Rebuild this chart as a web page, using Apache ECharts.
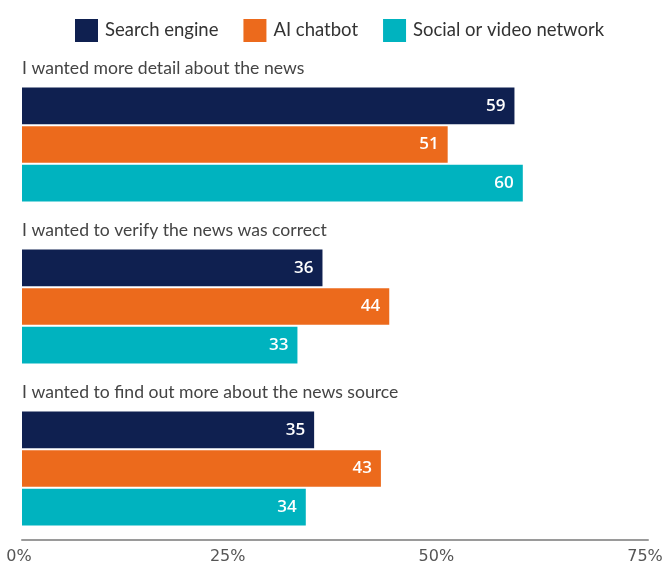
<!DOCTYPE html>
<html>
<head>
<meta charset="utf-8">
<script src="https://cdn.jsdelivr.net/npm/echarts@6/dist/echarts.min.js"></script>
<style>
  html, body { margin: 0; padding: 0; background: #fff; }
  #chart { width: 664px; height: 568px; }
</style>
</head>
<body>
<div id="chart"></div>
<script>
// Reasons for clicking through, by platform type (% of respondents)
const reasons = [
  'I wanted more detail about the news',
  'I wanted to verify the news was correct',
  'I wanted to find out more about the news source'
];
const seriesNames = ['Search engine', 'AI chatbot', 'Social or video network'];
const searchEngine = [59, 36, 35];
const aiChatbot = [51, 44, 43];
const socialVideo = [60, 33, 34];
const xTicks = [0, 25, 50, 75];

const colors = ['#0f2050', '#ec6a1c', '#00b3bf'];
const values = [searchEngine, aiChatbot, socialVideo];

// Each group heading sits this far above the centre of its category band
const HEADING_RAISE = 76;

const chart = echarts.init(document.getElementById('chart'), null, { renderer: 'canvas' });

chart.setOption({
  animation: false,
  backgroundColor: '#ffffff',
  color: colors,
  legend: {
    top: 14,
    left: 70,
    icon: 'rect',
    itemWidth: 23,
    itemHeight: 23,
    itemGap: 25,
    textStyle: {
      fontFamily: 'Lato',
      fontSize: 18.5,
      color: '#333333',
      padding: [0, 0, 0, 2]
    },
    data: seriesNames
  },
  grid: {
    left: 22,
    right: 16,
    top: 63.5,
    bottom: 18.5,
    containLabel: false,
    outerBoundsMode: 'none'
  },
  xAxis: {
    type: 'value',
    min: xTicks[0],
    max: xTicks[xTicks.length - 1],
    interval: 25,
    offset: -9.5,
    axisLine: { show: true, lineStyle: { color: '#9a9a9a', width: 2 } },
    axisTick: { show: false },
    splitLine: { show: false },
    axisLabel: {
      formatter: '{value}%',
      fontFamily: 'DejaVu Sans',
      fontSize: 16,
      color: '#555555',
      margin: 9,
      padding: [0, 6, 0, 0]
    }
  },
  yAxis: {
    type: 'category',
    inverse: true,
    data: reasons,
    axisLine: { show: false },
    axisTick: { show: false },
    axisLabel: { show: false }
  },
  series: seriesNames.map((name, i) => ({
    name: name,
    type: 'bar',
    data: values[i],
    barWidth: 36.7,
    barGap: '5%',
    itemStyle: { color: colors[i] },
    label: {
      show: true,
      position: 'insideRight',
      distance: 9,
      color: '#ffffff',
      fontFamily: 'Open Sans',
      fontWeight: 600,
      fontSize: 17
    }
  }))
});

// Group headings, placed from the category axis positions
chart.setOption({
  graphic: reasons.map((reason) => ({
    type: 'text',
    x: 22,
    y: chart.convertToPixel({ yAxisIndex: 0 }, reason) - HEADING_RAISE,
    style: {
      text: reason,
      fontFamily: 'Lato',
      fontSize: 17.6,
      fill: '#444444',
      verticalAlign: 'middle'
    }
  }))
});
</script>
</body>
</html>
